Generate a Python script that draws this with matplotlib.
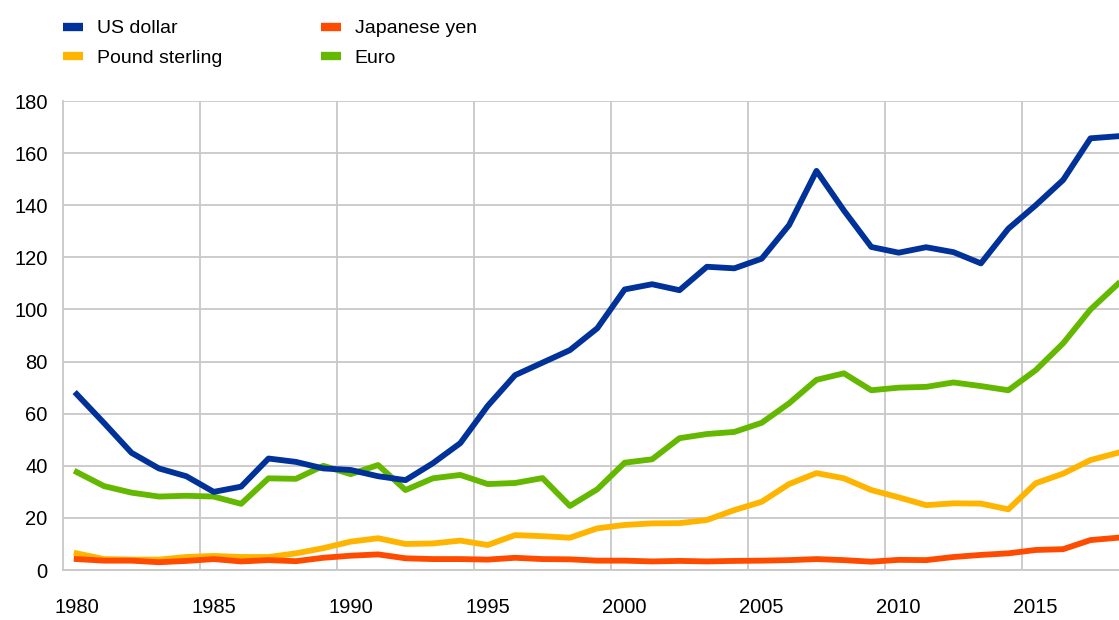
import numpy as np
import matplotlib.pyplot as plt

plt.rcParams['font.family'] = ['Liberation Sans', 'DejaVu Sans']
plt.rcParams['font.size'] = 14

years = np.arange(1980, 2019)

us_dollar = [67.5, 56.4, 45.0, 39.0, 36.0, 30.0, 32.0, 42.8, 41.5, 39.0,
             38.4, 36.0, 34.5, 41.0, 48.7, 63.0, 74.8, 79.6, 84.4, 92.8,
             107.7, 109.7, 107.4, 116.4, 115.8, 119.5, 132.4, 153.2, 138.0, 124.0,
             121.8, 123.9, 122.0, 117.7, 131.0, 140.0, 149.7, 165.7, 166.5]

pound_sterling = [6.4, 4.2, 4.0, 4.0, 5.0, 5.4, 5.0, 5.0, 6.4, 8.4,
                  10.9, 12.2, 10.0, 10.2, 11.3, 9.6, 13.4, 13.0, 12.4, 16.0,
                  17.3, 17.9, 18.0, 19.2, 23.0, 26.2, 33.0, 37.2, 35.2, 30.7,
                  27.9, 24.9, 25.6, 25.5, 23.3, 33.3, 37.0, 42.2, 45.0]

japanese_yen = [4.2, 3.6, 3.6, 3.0, 3.5, 4.2, 3.3, 3.8, 3.4, 4.7,
                5.5, 6.0, 4.5, 4.2, 4.2, 4.0, 4.7, 4.2, 4.1, 3.6,
                3.6, 3.3, 3.5, 3.3, 3.5, 3.6, 3.8, 4.2, 3.8, 3.2,
                3.9, 3.8, 5.0, 5.8, 6.4, 7.7, 8.0, 11.5, 12.4]

euro = [37.6, 32.2, 29.7, 28.2, 28.5, 28.2, 25.4, 35.2, 35.0, 40.0,
        36.8, 40.3, 30.7, 35.2, 36.5, 33.0, 33.4, 35.3, 24.6, 31.0,
        41.2, 42.5, 50.6, 52.2, 53.0, 56.5, 64.0, 73.0, 75.5, 69.0,
        70.0, 70.3, 72.0, 70.6, 69.0, 76.7, 87.0, 100.0, 109.8]

fig = plt.figure(figsize=(11.19, 6.2), dpi=100)
ax = fig.add_axes([0.0563, 0.0806, 0.9437, 0.7564])

# порядок рисования: фунт под иеной
ax.plot(years, pound_sterling, color='#FFB400', lw=4.2, label='Pound sterling', zorder=3)
ax.plot(years, japanese_yen, color='#FF4B00', lw=4.2, label='Japanese yen', zorder=4)
ax.plot(years, euro, color='#65B800', lw=4.2, label='Euro', zorder=5)
ax.plot(years, us_dollar, color='#003299', lw=4.2, label='US dollar', zorder=6)

ax.set_xlim(1979.5, 2018.04)
ax.set_ylim(0, 180)
ax.set_yticks(np.arange(0, 181, 20))
ax.set_xticks(np.arange(1980, 2019, 5))
ax.set_xticks(np.arange(1984.5, 2018, 5), minor=True)

ax.grid(False)
ax.yaxis.grid(True, which='major', color='#C8C8C8', lw=1.3, zorder=0)
ax.xaxis.grid(True, which='minor', color='#C8C8C8', lw=1.3, zorder=0)
ax.tick_params(axis='both', which='both', length=0, labelsize=14.5, colors='#000000')
ax.tick_params(axis='y', pad=11)
ax.tick_params(axis='x', pad=20)

for s in ['top', 'right']:
    ax.spines[s].set_visible(False)
for s in ['left', 'bottom']:
    ax.spines[s].set_color('#C8C8C8')
    ax.spines[s].set_linewidth(1.3)

handles, labels = ax.get_legend_handles_labels()
order = ['US dollar', 'Pound sterling', 'Japanese yen', 'Euro']
h = [handles[labels.index(n)] for n in order]
leg = fig.legend(h, order, loc='upper left', bbox_to_anchor=(0.0563, 0.968),
                 ncol=2, frameon=False, borderpad=0, borderaxespad=0,
                 handlelength=1.03, handletextpad=0.72, labelspacing=0.6,
                 columnspacing=5.05, fontsize=14)
for line in leg.get_lines():
    line.set_linewidth(6)
    line.set_solid_capstyle('butt')

fig.savefig('out.png', dpi=100)
